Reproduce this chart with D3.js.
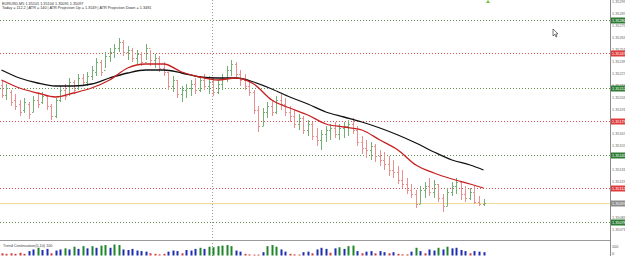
<!DOCTYPE html>
<html>
<head>
<meta charset="utf-8">
<script src="https://cdn.jsdelivr.net/npm/d3@7"></script>
<style>
  body { margin: 0; background: #fff; }
  svg { display: block; font-family: "Liberation Sans", Arial, sans-serif; }
</style>
</head>
<body>
<div id="chart"></div>
<script>
const W = 625, H = 256;
const plot = {left: 0, right: 610, top: 0, bottom: 240};

// OHLC of the M5 bars
const highs = [1.35220,1.35216,1.35210,1.35206,1.35200,1.35202,1.35198,1.35204,1.35206,1.35208,
  1.35205,1.35196,1.35202,1.35214,1.35216,1.35222,1.35220,1.35226,1.35226,1.35228,
  1.35234,1.35242,1.35240,1.35248,1.35252,1.35256,1.35262,1.35260,1.35254,1.35252,
  1.35250,1.35248,1.35256,1.35250,1.35246,1.35244,1.35238,1.35228,1.35224,1.35220,
  1.35214,1.35216,1.35220,1.35222,1.35224,1.35226,1.35224,1.35222,1.35220,1.35226,
  1.35234,1.35240,1.35238,1.35230,1.35226,1.35220,1.35210,1.35194,1.35192,1.35198,
  1.35200,1.35204,1.35206,1.35202,1.35194,1.35190,1.35186,1.35184,1.35180,1.35178,
  1.35172,1.35170,1.35174,1.35176,1.35178,1.35176,1.35178,1.35180,1.35182,1.35174,
  1.35164,1.35160,1.35158,1.35156,1.35150,1.35148,1.35144,1.35140,1.35134,1.35130,
  1.35122,1.35116,1.35110,1.35114,1.35118,1.35122,1.35120,1.35116,1.35106,1.35112,
  1.35118,1.35122,1.35118,1.35114,1.35112,1.35114,1.35104,1.35101];
const lows = [1.35202,1.35200,1.35194,1.35190,1.35184,1.35187,1.35181,1.35188,1.35192,1.35196,
  1.35190,1.35180,1.35182,1.35198,1.35200,1.35204,1.35206,1.35210,1.35214,1.35214,
  1.35220,1.35224,1.35224,1.35232,1.35238,1.35242,1.35248,1.35244,1.35240,1.35238,
  1.35236,1.35234,1.35240,1.35234,1.35232,1.35228,1.35224,1.35210,1.35208,1.35202,
  1.35198,1.35202,1.35204,1.35206,1.35208,1.35210,1.35206,1.35204,1.35206,1.35210,
  1.35218,1.35224,1.35222,1.35214,1.35210,1.35204,1.35186,1.35168,1.35174,1.35182,
  1.35184,1.35186,1.35190,1.35184,1.35178,1.35172,1.35170,1.35166,1.35164,1.35160,
  1.35154,1.35150,1.35158,1.35160,1.35162,1.35160,1.35162,1.35164,1.35166,1.35154,
  1.35146,1.35142,1.35140,1.35138,1.35134,1.35130,1.35124,1.35122,1.35116,1.35112,
  1.35106,1.35102,1.35092,1.35096,1.35102,1.35104,1.35102,1.35098,1.35088,1.35094,
  1.35104,1.35106,1.35100,1.35098,1.35100,1.35096,1.35094,1.35094];
const opens = [1.35215,1.35205,1.35208,1.35200,1.35196,1.35190,1.35196,1.35188,1.35200,1.35198,
  1.35204,1.35194,1.35184,1.35200,1.35210,1.35206,1.35218,1.35212,1.35222,1.35218,
  1.35224,1.35228,1.35238,1.35230,1.35244,1.35248,1.35252,1.35258,1.35248,1.35250,
  1.35242,1.35246,1.35238,1.35252,1.35240,1.35242,1.35232,1.35228,1.35214,1.35220,
  1.35206,1.35210,1.35212,1.35216,1.35210,1.35220,1.35214,1.35218,1.35208,1.35216,
  1.35222,1.35230,1.35236,1.35226,1.35220,1.35214,1.35208,1.35190,1.35174,1.35188,
  1.35194,1.35188,1.35200,1.35196,1.35188,1.35184,1.35176,1.35182,1.35170,1.35176,
  1.35164,1.35160,1.35166,1.35170,1.35172,1.35166,1.35172,1.35174,1.35176,1.35170,
  1.35158,1.35152,1.35150,1.35154,1.35144,1.35140,1.35136,1.35130,1.35128,1.35120,
  1.35116,1.35110,1.35106,1.35096,1.35110,1.35114,1.35108,1.35116,1.35102,1.35094,
  1.35108,1.35114,1.35118,1.35106,1.35102,1.35108,1.35098,1.35096];
const closes = [1.35205,1.35212,1.35198,1.35194,1.35188,1.35198,1.35186,1.35200,1.35196,1.35204,
  1.35194,1.35184,1.35200,1.35210,1.35204,1.35218,1.35210,1.35222,1.35218,1.35224,
  1.35230,1.35238,1.35228,1.35244,1.35248,1.35252,1.35258,1.35248,1.35250,1.35242,
  1.35246,1.35238,1.35252,1.35240,1.35242,1.35232,1.35228,1.35214,1.35220,1.35206,
  1.35210,1.35212,1.35216,1.35210,1.35220,1.35214,1.35218,1.35208,1.35216,1.35222,
  1.35230,1.35236,1.35226,1.35220,1.35214,1.35208,1.35190,1.35174,1.35188,1.35194,
  1.35188,1.35200,1.35196,1.35188,1.35184,1.35176,1.35182,1.35170,1.35176,1.35164,
  1.35160,1.35166,1.35170,1.35172,1.35166,1.35172,1.35174,1.35176,1.35170,1.35158,
  1.35152,1.35150,1.35154,1.35144,1.35140,1.35136,1.35130,1.35128,1.35120,1.35116,
  1.35110,1.35106,1.35096,1.35110,1.35114,1.35108,1.35116,1.35102,1.35094,1.35108,
  1.35114,1.35118,1.35106,1.35102,1.35108,1.35098,1.35096,1.35097];

// moving averages, sampled every 4 bars
const maIndex = [0,4,8,12,16,20,24,28,32,36,40,44,48,52,56,60,64,68,72,76,80,84,88,92,96,100,104,107];
const maBlack = [1.35230,1.35222,1.35217,1.35214,1.35214,1.35216,1.35222,1.35227,1.35230,1.35230,
  1.35227,1.35223,1.35222,1.35222,1.35218,1.35211,1.35203,1.35196,1.35188,1.35183,
  1.35178,1.35172,1.35165,1.35157,1.35148,1.35140,1.35135,1.35130];
const maRed = [1.35220,1.35212,1.35207,1.35203,1.35207,1.35212,1.35220,1.35232,1.35236,1.35236,
  1.35228,1.35223,1.35220,1.35222,1.35216,1.35200,1.35192,1.35185,1.35176,1.35173,
  1.35170,1.35160,1.35150,1.35135,1.35127,1.35121,1.35116,1.35112];

// Trend Continuation histogram
const trendVals = [20,15,20,15,25,15,40,55,70,50,60,20,45,55,65,55,80,60,85,65,
  85,70,90,95,70,100,95,55,50,60,45,40,35,20,15,10,15,35,45,40,
  20,50,45,60,70,60,80,75,85,90,95,85,45,35,15,10,8,8,30,85,
  95,80,55,35,15,10,8,30,35,20,55,70,60,25,65,75,60,85,90,40,
  20,35,40,20,40,30,20,30,15,10,10,35,70,40,20,55,45,70,55,80,
  65,70,50,40,20,40,35,30];
const trendCol = "rrrrrrbbgbbrbbgbgbgbgbggbggbbbbbbrrrrbbbrbbbgbgggggg" +
  "bbrrrrbggg" + "bbrrrbbrbbbrbgbggbrbbrbbrbrrrbgbrbbgbgbbbbrbbb";

// price levels (ATR projections) and the bid line
const levels = [1.35280,1.35247,1.35212,1.35179,1.35145,1.35112,1.35078];
const levelKind = ["g","r","g","r","g","r","g"];
const bid = 1.35097;
const priceTicks = [1.35299,1.35287,1.35275,1.35263,1.35251,1.35239,1.35227,1.35215,1.35203,
  1.35191,1.35167,1.35155,1.35131,1.35119,1.35083,1.35071];
const indTicks = [100, 0];

const header1 = "EURUSD,M5  1.35101 1.35104 1.35095 1.35097";
const header2 = "Today = 112.2  |  ATR = 140  |  ATR Projection Up = 1.3549  |  ATR Projection Down = 1.3481";
const indLabel = "Trend Continuation(5,10)  100";

const svg = d3.select("#chart").append("svg")
    .attr("width", W).attr("height", H);

svg.append("rect").attr("width", W).attr("height", H).attr("fill", "#fff");

const x = d3.scaleLinear().domain([0, highs.length - 1]).range([1.5, 483.5]);
const y = d3.scaleLinear().domain([1.35062, 1.35300]).range([238, 0]);
const yi = d3.scaleLinear().domain([0, 100]).range([255.5, 244.5]);

const green = "#2e7d32", red = "#e03c3c";

// level lines
svg.selectAll("line.level").data(levels).enter().append("line")
    .attr("x1", 0).attr("x2", plot.right)
    .attr("y1", d => Math.round(y(d)) + 0.5).attr("y2", d => Math.round(y(d)) + 0.5)
    .attr("stroke", (d, i) => levelKind[i] === "g" ? "#5f8f4a" : "#d85050")
    .attr("stroke-width", 1)
    .attr("stroke-dasharray", "1,2");

// bid line
svg.append("line")
    .attr("x1", 0).attr("x2", plot.right)
    .attr("y1", Math.round(y(bid)) + 0.5).attr("y2", Math.round(y(bid)) + 0.5)
    .attr("stroke", "#f2dc98").attr("stroke-width", 1);

// period separator
svg.append("line")
    .attr("x1", 212.5).attr("x2", 212.5).attr("y1", 0).attr("y2", H)
    .attr("stroke", "#9a9a9a").attr("stroke-dasharray", "1,2");

// bars
const bars = svg.append("g").selectAll("g").data(highs.map((h, i) => i)).enter().append("g")
    .attr("stroke", i => closes[i] >= opens[i] ? "#74b074" : "#e79090")
    .attr("stroke-width", 1);
bars.append("line")
    .attr("x1", i => Math.round(x(i)) + 0.5).attr("x2", i => Math.round(x(i)) + 0.5)
    .attr("y1", i => y(highs[i])).attr("y2", i => y(lows[i]));
bars.append("line")
    .attr("x1", i => Math.round(x(i)) - 1).attr("x2", i => Math.round(x(i)) + 0.5)
    .attr("y1", i => Math.round(y(opens[i])) + 0.5).attr("y2", i => Math.round(y(opens[i])) + 0.5);
bars.append("line")
    .attr("x1", i => Math.round(x(i)) + 0.5).attr("x2", i => Math.round(x(i)) + 2)
    .attr("y1", i => Math.round(y(closes[i])) + 0.5).attr("y2", i => Math.round(y(closes[i])) + 0.5);

// moving averages
const maLine = vals => d3.line()
    .x((d, k) => x(d))
    .y((d, k) => y(vals[k]))
    .curve(d3.curveMonotoneX)(maIndex);
svg.append("path").attr("d", maLine(maBlack))
    .attr("fill", "none").attr("stroke", "#111").attr("stroke-width", 1.3);
svg.append("path").attr("d", maLine(maRed))
    .attr("fill", "none").attr("stroke", "#c62020").attr("stroke-width", 1.3);

// indicator panel
svg.append("line").attr("x1", 0).attr("x2", plot.right)
    .attr("y1", plot.bottom + 0.5).attr("y2", plot.bottom + 0.5)
    .attr("stroke", "#9a9a9a");
const colMap = {r: "#d23a3a", b: "#1f2fb0", g: "#21862a"};
svg.append("g").selectAll("rect").data(trendVals).enter().append("rect")
    .attr("x", (d, i) => Math.round(x(i)) - 0.5)
    .attr("width", 2)
    .attr("y", d => yi(d))
    .attr("height", d => yi(0) - yi(d))
    .attr("fill", (d, i) => colMap[trendCol[i]]);
svg.append("text").attr("x", 3).attr("y", 247)
    .attr("font-size", 3.8).attr("fill", "#444").text(indLabel);
svg.selectAll("text.it").data(indTicks).enter().append("text")
    .attr("x", 612).attr("y", d => yi(d) + (d ? 3.5 : -1))
    .attr("font-size", 3.8).attr("fill", "#555").text(d => d);

// right price axis
svg.append("line").attr("x1", plot.right + 0.5).attr("x2", plot.right + 0.5)
    .attr("y1", 0).attr("y2", H).attr("stroke", "#8a8a8a");
svg.selectAll("text.pt").data(priceTicks).enter().append("text")
    .attr("x", 612).attr("y", d => y(d) + 1.5)
    .attr("font-size", 3.8).attr("fill", "#666").text(d => d.toFixed(5));

const tagData = levels.map((v, i) => ({v, c: levelKind[i] === "g" ? green : red}))
    .concat([{v: bid, c: "#8c8c8c"}]);
const tags = svg.selectAll("g.tag").data(tagData).enter().append("g");
tags.append("rect")
    .attr("x", plot.right + 1).attr("width", 15)
    .attr("y", d => Math.round(y(d.v)) - 2.5).attr("height", 6)
    .attr("fill", d => d.c);
tags.append("text")
    .attr("x", plot.right + 2).attr("y", d => Math.round(y(d.v)) + 2)
    .attr("font-size", 3.8).attr("fill", "#fff").text(d => d.v.toFixed(5));

// header
svg.append("text").attr("x", 2).attr("y", 4.5)
    .attr("font-size", 3.8).attr("fill", "#333").text(header1);
svg.append("text").attr("x", 2).attr("y", 9)
    .attr("font-size", 3.8).attr("fill", "#333").text(header2);

// small up marker at top
svg.append("path").attr("d", d3.symbol(d3.symbolTriangle, 6)())
    .attr("transform", "translate(488,2)").attr("fill", "#6cbf3a");

// mouse pointer left in the screenshot
svg.append("path")
    .attr("d", "M0,0 L0,7 L1.8,5.3 L3,8 L4,7.5 L2.9,4.9 L5,4.9 Z")
    .attr("transform", "translate(553,29)")
    .attr("fill", "#fff").attr("stroke", "#222").attr("stroke-width", 0.6);
</script>
</body>
</html>
